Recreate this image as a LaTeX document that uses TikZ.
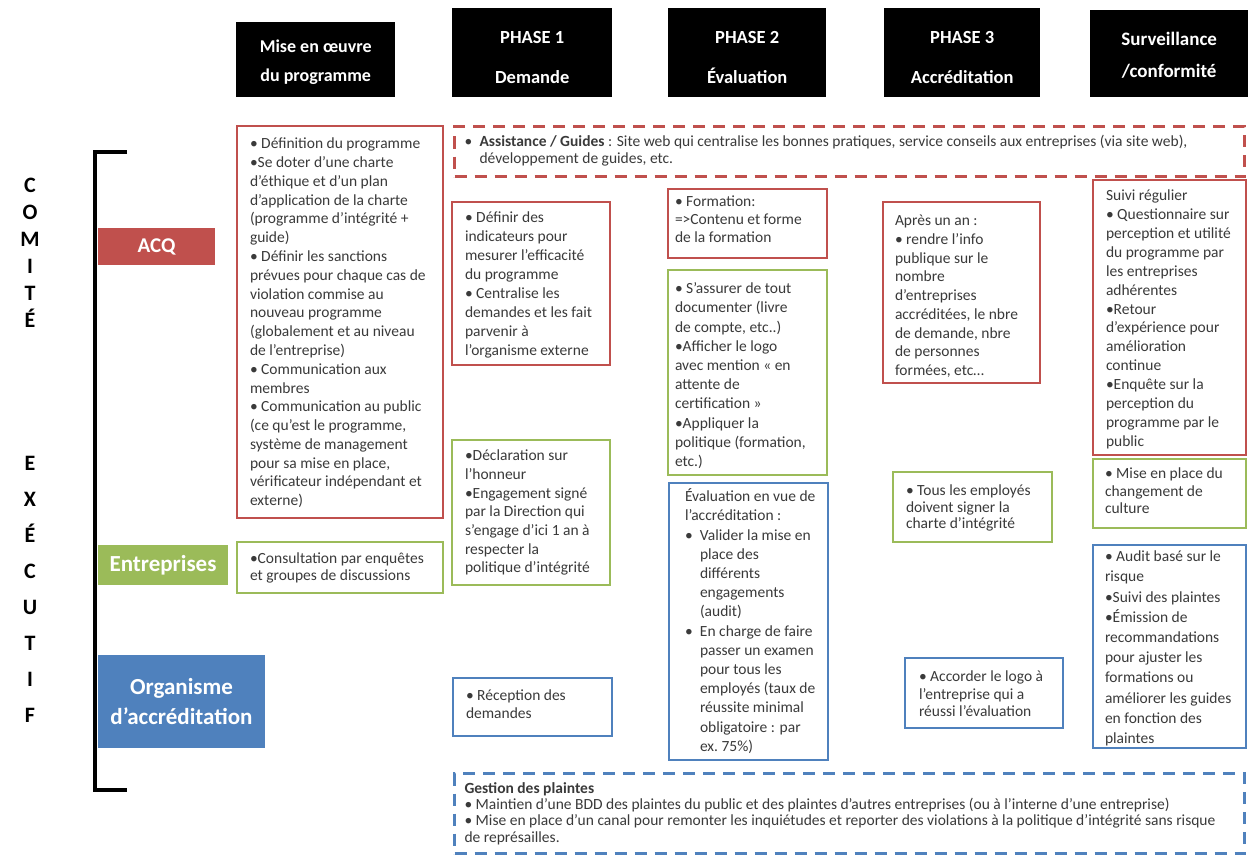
\documentclass[tikz,border=0pt]{standalone}
\usepackage{fontspec}
\setmainfont{Carlito}
\definecolor{cred}{HTML}{C0504D}
\definecolor{cgreen}{HTML}{9BBB59}
\definecolor{cblue}{HTML}{4F81BD}
\definecolor{ctext}{HTML}{3A3A3A}
% #1 leftskip, #2 height, #3 width, #4 baselineskip, #5 top space, #6 text
\newcommand\ct[6][13pt]{\parbox[t][#2][t]{#3}{\fontsize{15.5}{#4}\selectfont\raggedright\leftskip=#1\rightskip=0pt plus 1fil minus 80pt\relax\vspace*{#5}\rule{0pt}{13pt}#6}}
% header text: #1 height, #2 width, #3 top space, #4 font size, #5 baselineskip, #6 text
\newcommand\hb[6]{\parbox[t][#1][t]{#2}{\centering\fontsize{#4}{#5}\bfseries\selectfont\vspace*{#3}\rule{0pt}{14pt}#6}}
\newcommand\bl{\makebox[15pt][l]{•}}
\begin{document}
\begin{tikzpicture}[x=1pt,y=1pt,
  hdr/.style={fill=black, text=white, inner sep=0pt, anchor=north west},
  lab/.style={text=white, inner sep=0pt, align=center},
  card/.style={draw=#1, line width=2.5pt, fill=white, inner sep=0pt, outer sep=0pt, anchor=north west, text=ctext},
  dbox/.style={draw=#1, line width=3pt, dash pattern=on 12pt off 8pt, inner sep=0pt, anchor=north west, text=ctext},
  letters/.style={inner sep=0pt, align=center},
]
\useasboundingbox[fill=white] (0,0) rectangle (1248,-859);

% headers
\node[hdr] (h0) at (236,-22) {\hb{75pt}{159pt}{16pt}{18}{29pt}{Mise en œuvre\\du programme}};
\node[hdr] (h1) at (452,-8) {\hb{89pt}{160pt}{21pt}{18.5}{40pt}{PHASE 1\\Demande}};
\node[hdr] (h2) at (668,-8) {\hb{89pt}{158pt}{21pt}{18.5}{40pt}{PHASE 2\\Évaluation}};
\node[hdr] (h3) at (884,-8) {\hb{89pt}{156pt}{21pt}{18.5}{40pt}{PHASE 3\\Accréditation}};
\node[hdr] (h4) at (1090,-10) {\hb{87pt}{158pt}{21pt}{19}{32pt}{Surveillance\\/conformité}};

% left column
\coordinate (bt) at (127,-152);
\coordinate (btc) at (95,-152);
\coordinate (bbc) at (95,-790);
\coordinate (bb) at (127,-790);
\draw[line width=4pt] (bt) -- (btc) -- (bbc) -- (bb);
\node[letters, font=\bfseries\fontsize{22}{27}\selectfont] (comite) at (30,-253) {C\\O\\M\\I\\T\\É};
\node[letters, font=\bfseries\fontsize{22}{36}\selectfont] (executif) at (30,-589) {E\\X\\É\\C\\U\\T\\I\\F};

\node[lab, fill=cred, minimum width=117pt, minimum height=37pt, font=\bfseries\fontsize{21}{26}\selectfont] (lacq) at (156.5,-246.5) {ACQ};
\node[lab, fill=cgreen, minimum width=130pt, minimum height=40pt, font=\bfseries\fontsize{23}{28}\selectfont] (lent) at (163,-565) {Entreprises};
\node[lab, fill=cblue, minimum width=167pt, minimum height=93pt, font=\bfseries\fontsize{23}{30}\selectfont] (lorg) at (181.5,-701.5) {Organisme\\d’accréditation};

% dashed boxes
\node[dbox=cred] (assist) at (453,-125) {\parbox[t][50pt][t]{790pt}{\fontsize{15.5}{17.5}\selectfont\raggedright\leftskip=10pt\relax\vspace*{6.6pt}\rule{0pt}{13pt}\makebox[15pt][l]{•}\textbf{Assistance / Guides} : Site web qui centralise les bonnes pratiques, service conseils aux entreprises (via site web),\\\hspace*{15pt}développement de guides, etc.}};
\node[dbox=cblue] (gest) at (453,-772) {\parbox[t][80pt][t]{790pt}{\fontsize{15.5}{16.3}\selectfont\raggedright\leftskip=10pt\relax\vspace*{6.6pt}\rule{0pt}{13pt}\textbf{Gestion des plaintes}\\• Maintien d’une BDD des plaintes du public et des plaintes d’autres entreprises (ou à l’interne d’une entreprise)\\• Mise en place d’un canal pour remonter les inquiétudes et reporter des violations à la politique d’intégrité sans risque\\de représailles.}};

% column 1
\node[card=cred] (acq0) at (237,-126) {\ct{392pt}{206pt}{18.8pt}{9.6pt}{• Définition du programme\\•Se doter d’une charte\\d’éthique et d’un plan\\d’application de la charte\\(programme d’intégrité +\\guide)\\• Définir les sanctions\\prévues pour chaque cas de\\violation commise au\\nouveau programme\\(globalement et au niveau\\de l’entreprise)\\• Communication aux\\membres\\• Communication au public\\(ce qu’est le programme,\\système de management\\pour sa mise en place,\\vérificateur indépendant et\\externe)}};
\node[card=cgreen] (ent0) at (237,-542) {\ct{51pt}{206pt}{17pt}{8.6pt}{•Consultation par enquêtes\\et groupes de discussions}};

% phase 1
\node[card=cred] (p1r) at (452,-202) {\ct{163pt}{158pt}{19pt}{7.6pt}{• Définir des\\indicateurs pour\\mesurer l’efficacité\\du programme\\• Centralise les\\demandes et les fait\\parvenir à\\l’organisme externe}};
\node[card=cgreen] (p1g) at (452,-440) {\ct{145pt}{158pt}{18.7pt}{7.6pt}{•Déclaration sur\\l’honneur\\•Engagement signé\\par la Direction qui\\s’engage d’ici 1 an à\\respecter la\\politique d’intégrité}};
\node[card=cblue] (p1b) at (453,-678) {\ct{58pt}{159pt}{17.5pt}{9.6pt}{• Réception des\\demandes}};

% phase 2
\node[card=cred] (p2r) at (668,-189) {\ct[7pt]{69pt}{159pt}{18pt}{4.6pt}{• Formation:\\=>Contenu et forme\\de la formation}};
\node[card=cgreen] (p2g) at (668,-270) {\ct[7pt]{205pt}{159pt}{19.2pt}{10.6pt}{• S’assurer de tout\\documenter (livre\\de compte, etc..)\\•Afficher le logo\\avec mention « en\\attente de\\certification »\\•Appliquer la\\politique (formation,\\etc.)}};
\node[card=cblue] (p2b) at (669,-483) {\ct[16pt]{277pt}{159pt}{19.2pt}{5.6pt}{Évaluation en vue de\\l’accréditation :\\\bl Valider la mise en\\\hspace*{15pt}place des\\\hspace*{15pt}différents\\\hspace*{15pt}engagements\\\hspace*{15pt}(audit)\\\bl En charge de faire\\\hspace*{15pt}passer un examen\\\hspace*{15pt}pour tous les\\\hspace*{15pt}employés (taux de\\\hspace*{15pt}réussite minimal\\\hspace*{15pt}obligatoire : par\\\hspace*{15pt}ex.\ 75\%)}};

% phase 3
\node[card=cred] (p3r) at (883,-202) {\ct[12pt]{181pt}{157pt}{18.75pt}{10.6pt}{Après un an :\\• rendre l’info\\publique sur le\\nombre\\d’entreprises\\accréditées, le nbre\\de demande, nbre\\de personnes\\formées, etc…}};
\node[card=cgreen] (p3g) at (893,-472) {\ct[13pt]{70pt}{159pt}{16.5pt}{10.6pt}{• Tous les employés\\doivent signer la\\charte d’intégrité}};
\node[card=cblue] (p3b) at (905,-658) {\ct[14pt]{70pt}{158pt}{17.5pt}{10.6pt}{• Accorder le logo à\\l’entreprise qui a\\réussi l’évaluation}};

% surveillance
\node[card=cred] (svr) at (1093,-180) {\ct[13pt]{275pt}{153pt}{18.9pt}{7.6pt}{Suivi régulier\\• Questionnaire sur\\perception et utilité\\du programme par\\les entreprises\\adhérentes\\•Retour\\d’expérience pour\\amélioration\\continue\\•Enquête sur la\\perception du\\programme par le\\public}};
\node[card=cgreen] (svg) at (1093,-459) {\ct[12pt]{69pt}{153pt}{17.5pt}{6.6pt}{• Mise en place du\\changement de\\culture}};
\node[card=cblue] (svb) at (1093,-545) {\ct[12pt]{203pt}{153pt}{20.2pt}{3.6pt}{• Audit basé sur le\\risque\\•Suivi des plaintes\\•Émission de\\recommandations\\pour ajuster les\\formations ou\\améliorer les guides\\en fonction des\\plaintes}};
\end{tikzpicture}
\end{document}
